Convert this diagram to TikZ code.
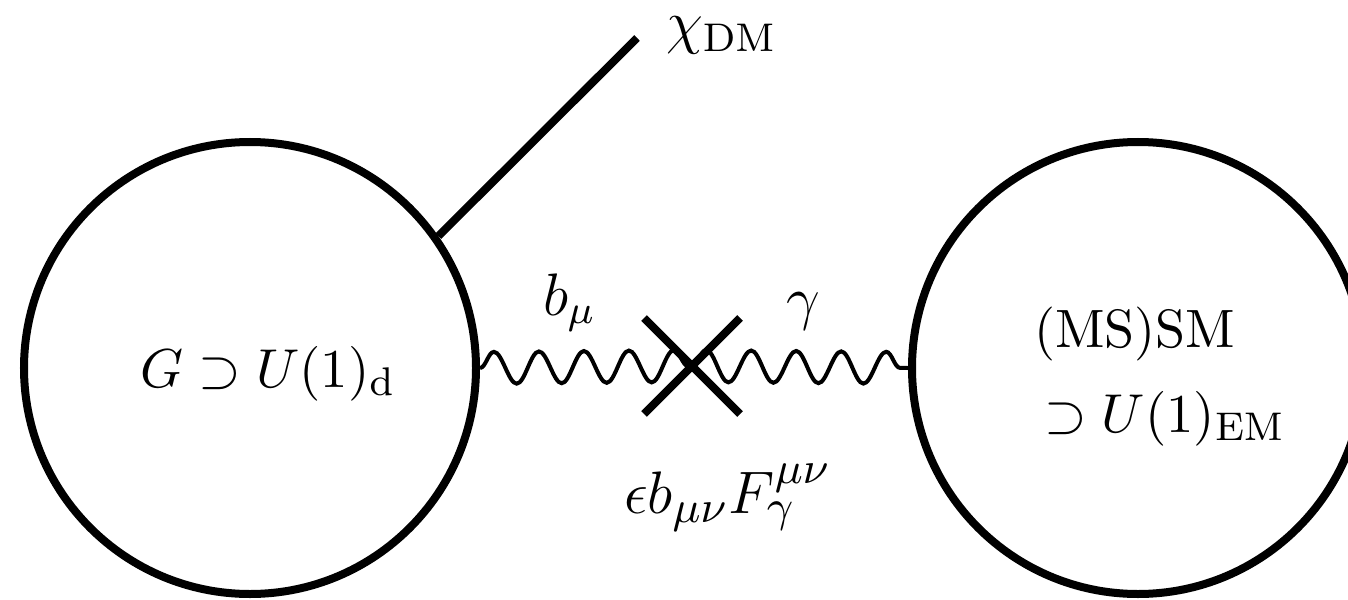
\documentclass[tikz,border=0pt]{standalone}
\usepackage{amsmath}
\usetikzlibrary{decorations.pathmorphing,shapes.misc}

\begin{document}
\begin{tikzpicture}[x=0.2pt,y=-0.2pt, every node/.style={font=\fontsize{11.7}{14}\selectfont},
 blob/.style={draw,circle,line width=1.6pt,minimum size=90.4pt,inner sep=0pt},
 photon/.style={decorate,decoration={snake,segment length=9pt,amplitude=3.2pt},line width=0.8pt},
 mix/.style={draw,cross out,line width=1.6pt,minimum size=17.6pt,inner sep=0pt},
 lbl/.style={inner sep=0pt,anchor=base west}]
\useasboundingbox (0,0) rectangle (1348,600);
\clip (0,0) rectangle (1348,600);
\node[blob] (hid) at (250,368) {};
\node[blob] (sm) at (1138,368) {};
\node[mix] (kin) at (692,366) {};
\coordinate (dm) at (637,38);
\draw[line width=1.6pt] (hid.35) -- (dm);
\draw[photon] (hid.east) -- (kin.center);
\draw[photon] (kin.center) -- (sm.west);
% labels
\node[lbl,anchor=base,font=\fontsize{11.1}{14}\selectfont] (lhid) at (268,387) {$G\supset U(1)_{\mathrm{d}}$};
\node[lbl,font=\fontsize{10.8}{14}\selectfont] (lsm) at (1033,347) {(MS)SM};
\node[lbl,font=\fontsize{11.2}{14}\selectfont] (lem) at (1043,432) {$\supset U(1)_{\mathrm{EM}}$};
\node[lbl] (ldm) at (665,42) {$\chi_{\mathrm{DM}}$};
\node[lbl] (lb) at (542,315) {$b_\mu$};
\node[lbl] (lgam) at (785,318) {$\gamma$};
\node[lbl,font=\fontsize{12.8}{15}\selectfont] (lmix) at (623,513) {$\epsilon b_{\mu\nu}F_\gamma^{\mu\nu}$};
\end{tikzpicture}
\end{document}
